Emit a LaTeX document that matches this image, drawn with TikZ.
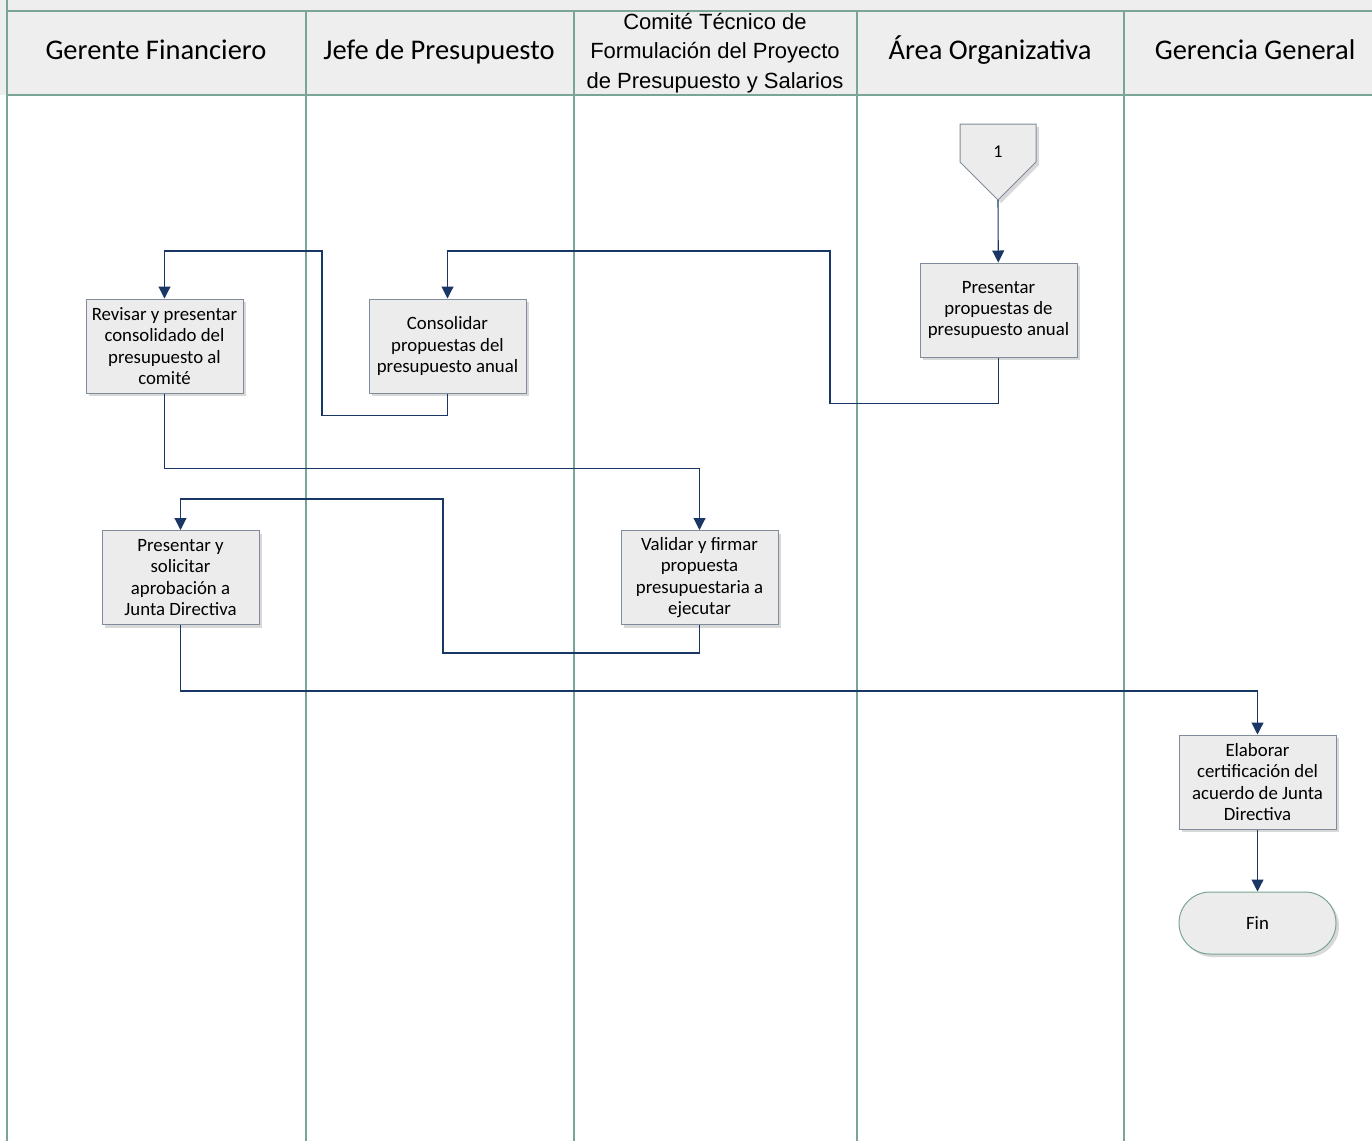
\documentclass[tikz,border=0pt]{standalone}
\usepackage{fontspec}
\setmainfont{Carlito}
\newfontfamily\narrowfont{Liberation Sans}
\usetikzlibrary{shadows,arrows.meta}

\definecolor{lanegreen}{RGB}{122,164,148}
\definecolor{headgray}{RGB}{238,238,238}
\definecolor{boxgray}{RGB}{236,236,236}
\definecolor{boxline}{RGB}{128,140,155}
\definecolor{flowblue}{RGB}{25,55,100}

\begin{document}
\begin{tikzpicture}[x=1pt,y=-1pt,
  lane/.style={draw=lanegreen,line width=1.6pt},
  lanetitle/.style={font=\fontsize{28.5}{32}\selectfont,text height=20pt,text depth=6pt},
  procbox/.style={draw=boxline,fill=boxgray,line width=1pt,
    minimum width=157pt,minimum height=94pt,inner sep=2pt,align=center,
    font=\fontsize{18.8}{21.3}\selectfont,
    drop shadow={shadow xshift=3pt,shadow yshift=-3pt,fill=black!30}},
  endbox/.style={draw=lanegreen,fill=boxgray,line width=1pt,
    minimum width=157pt,minimum height=62pt,rounded corners=31pt,
    font=\fontsize{18.8}{21.3}\selectfont,
    drop shadow={shadow xshift=3pt,shadow yshift=-3pt,fill=black!30}},
  flow/.style={draw=flowblue,line width=1.1pt,-{Triangle[length=12pt,width=12pt]}}
]
\useasboundingbox (0,0) rectangle (1372,1141);

% header band
\fill[headgray] (0,0) rectangle (1372,95);
\draw[lane] (7,11) -- (1372,11);
\draw[lane] (7,95) -- (1372,95);
\draw[lane] (7,0) -- (7,1141);
\foreach \x in {306,574,857,1124}
  \draw[lane] (\x,11) -- (\x,1141);

\node[lanetitle] (gf) at (156,52) {Gerente Financiero};
\node[lanetitle] (jp) at (439,52) {Jefe de Presupuesto};
\node[align=center,font=\narrowfont\fontsize{22}{29.5}\selectfont] (ct) at (715,53)
  {Comité Técnico de\\Formulación del Proyecto\\de Presupuesto y Salarios};
\node[lanetitle] (ao) at (990,52) {Área Organizativa};
\node[lanetitle] (gg) at (1255,52) {Gerencia General};

% off-page connector
\draw[draw=boxline,fill=boxgray,line width=1pt,
  drop shadow={shadow xshift=3pt,shadow yshift=-3pt,fill=black!30}]
  (960,124) -- (1036,124) -- (1036,162) -- (998,200) -- (960,162) -- cycle;
\node[font=\fontsize{18}{21}\selectfont] (uno) at (998,152) {1};
\coordinate (unob) at (998,200);

% steps
\node[procbox] (pres) at (998.5,310) {Presentar\\propuestas de\\presupuesto anual};
\node[procbox] (cons) at (447.5,346) {Consolidar\\propuestas del\\presupuesto anual};
\node[procbox] (rev) at (164.5,346) {Revisar y presentar\\consolidado del\\presupuesto al\\comité};
\node[procbox] (val) at (699.5,577.5) {Validar y firmar\\propuesta\\presupuestaria a\\ejecutar};
\node[procbox] (sol) at (180.5,577.5) {Presentar y\\solicitar\\aprobación a\\Junta Directiva};
\node[procbox] (elab) at (1257.5,782) {Elaborar\\certificación del\\acuerdo de Junta\\Directiva};
\node[endbox] (fin) at (1257.5,923) {Fin};

% flow
\draw[flow] (unob) -- (pres);
\draw[flow] (pres.south) -- ++(0,46) -| (830,251) -| (cons.north);
\draw[flow] (cons.south) -- ++(0,22) -| (322,251) -| (rev.north);
\draw[flow] (rev.south) -- ++(0,75) -| (val.north);
\draw[flow] (val.south) -- ++(0,28) -| (443,499) -| (sol.north);
\draw[flow] (sol.south) -- ++(0,66) -| (elab.north);
\draw[flow] (elab) -- (fin);

\end{tikzpicture}
\end{document}
